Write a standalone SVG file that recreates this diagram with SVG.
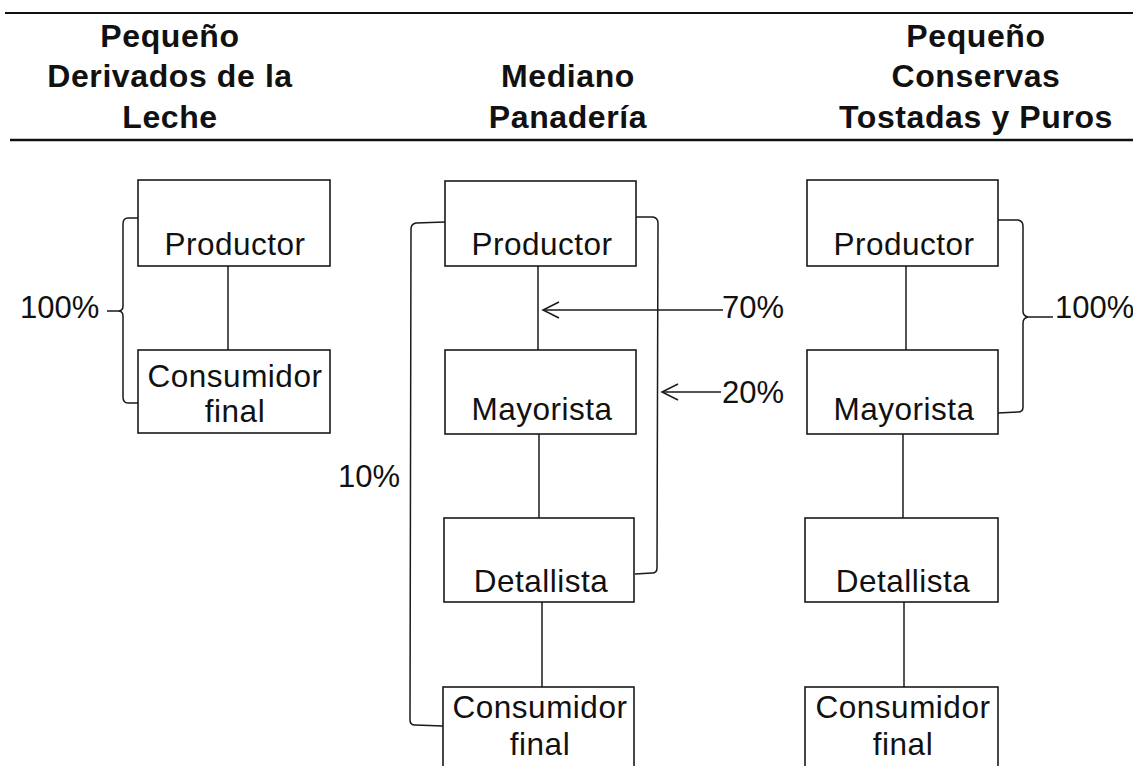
<svg xmlns="http://www.w3.org/2000/svg" width="1133" height="766" viewBox="0 0 1133 766">
<style>
  .hdr { font-family: "Liberation Sans", Arial, sans-serif; font-weight: bold; font-size: 32px; letter-spacing: 0.6px; fill: #111; text-anchor: middle; }
  .lbl { font-family: "Liberation Sans", Arial, sans-serif; font-size: 31.5px; letter-spacing: 0.5px; fill: #111; text-anchor: middle; }
  .pct { font-family: "Liberation Sans", Arial, sans-serif; font-size: 31px; fill: #111; }
  .box { fill: #fff; stroke: #1a1a1a; stroke-width: 1.6; }
  .ln { fill: none; stroke: #1a1a1a; stroke-width: 1.5; }
  .rule { stroke: #111; fill: none; }
</style>
<defs>
  <marker id="open" markerUnits="userSpaceOnUse" markerWidth="20" markerHeight="20" refX="0" refY="0" viewBox="-16 -10 20 20" orient="auto" overflow="visible">
    <path d="M-16,-8 L0,0 L-16,8" fill="none" stroke="#1a1a1a" stroke-width="1.5"/>
  </marker>
</defs>
<rect width="1133" height="766" fill="#fff"/>

<g id="header">
  <line class="rule" x1="5" y1="13" x2="1133" y2="13" stroke-width="2"/>
  <line class="rule" x1="10" y1="140" x2="1133" y2="140" stroke-width="2.6"/>
  <text class="hdr" x="170" y="47">Pequeño</text>
  <text class="hdr" x="170" y="87">Derivados de la</text>
  <text class="hdr" x="170" y="128">Leche</text>
  <text class="hdr" x="568" y="87">Mediano</text>
  <text class="hdr" x="568" y="128">Panadería</text>
  <text class="hdr" x="976" y="47">Pequeño</text>
  <text class="hdr" x="976" y="87">Conservas</text>
  <text class="hdr" x="976" y="128">Tostadas y Puros</text>
</g>

<g id="connectors">
  <line class="ln" x1="228" y1="266" x2="228" y2="350"/>
  <line class="ln" x1="538" y1="266" x2="538" y2="350"/>
  <line class="ln" x1="539" y1="434" x2="539" y2="518"/>
  <line class="ln" x1="542" y1="602" x2="542" y2="687"/>
  <line class="ln" x1="906" y1="266" x2="906" y2="350"/>
  <line class="ln" x1="903" y1="434" x2="903" y2="518"/>
  <line class="ln" x1="904" y1="602" x2="904" y2="687"/>
  <path class="ln" d="M138,218 L128,218 Q123,218 123,224 L123,306 Q123,311 118,311 L107,311 M118,311 Q123,311 123,316 L123,397 Q123,403 128,403 L138,403"/>
  <path class="ln" d="M445,222 L416,223 Q411,224 411,229 L410,720 Q410,725 415,725 L443,726"/>
  <path class="ln" d="M636,217 L653,217 Q658,218 658,223 L657,568 Q657,573 652,573 L635,574"/>
  <line class="ln" x1="723" y1="310" x2="543" y2="310" marker-end="url(#open)"/>
  <line class="ln" x1="721" y1="392" x2="662" y2="392" marker-end="url(#open)"/>
  <path class="ln" d="M998,220 L1018,220 Q1023,221 1023,226 L1023,311 Q1023,316 1028,317 L1053,317 M1028,317 Q1023,318 1023,323 L1023,407 Q1023,412 1018,412 L998,413"/>
</g>

<g id="labels">
  <text class="pct" x="20" y="318">100%</text>
  <text class="pct" x="722" y="318">70%</text>
  <text class="pct" x="722" y="403">20%</text>
  <text class="pct" x="338" y="487">10%</text>
  <text class="pct" x="1055" y="318">100%</text>
</g>

<g id="l-productor">
  <rect class="box" x="138" y="180" width="192" height="86"/>
  <text class="lbl" x="235" y="255">Productor</text>
</g>
<g id="l-consumidor">
  <rect class="box" x="138" y="350" width="192" height="83"/>
  <text class="lbl" x="235" y="387">Consumidor</text>
  <text class="lbl" x="235" y="422">final</text>
</g>

<g id="m-productor">
  <rect class="box" x="445" y="181" width="191" height="85"/>
  <text class="lbl" x="542" y="255">Productor</text>
</g>
<g id="m-mayorista">
  <rect class="box" x="445" y="350" width="191" height="84"/>
  <text class="lbl" x="542" y="420">Mayorista</text>
</g>
<g id="m-detallista">
  <rect class="box" x="444" y="518" width="190" height="84"/>
  <text class="lbl" x="541" y="592">Detallista</text>
</g>
<g id="m-consumidor">
  <rect class="box" x="443" y="687" width="191" height="90"/>
  <text class="lbl" x="540" y="718">Consumidor</text>
  <text class="lbl" x="540" y="755">final</text>
</g>

<g id="r-productor">
  <rect class="box" x="807" y="180" width="191" height="86"/>
  <text class="lbl" x="904" y="255">Productor</text>
</g>
<g id="r-mayorista">
  <rect class="box" x="807" y="350" width="191" height="84"/>
  <text class="lbl" x="904" y="420">Mayorista</text>
</g>
<g id="r-detallista">
  <rect class="box" x="805" y="518" width="193" height="84"/>
  <text class="lbl" x="903" y="592">Detallista</text>
</g>
<g id="r-consumidor">
  <rect class="box" x="805" y="687" width="193" height="90"/>
  <text class="lbl" x="903" y="718">Consumidor</text>
  <text class="lbl" x="903" y="755">final</text>
</g>
</svg>
